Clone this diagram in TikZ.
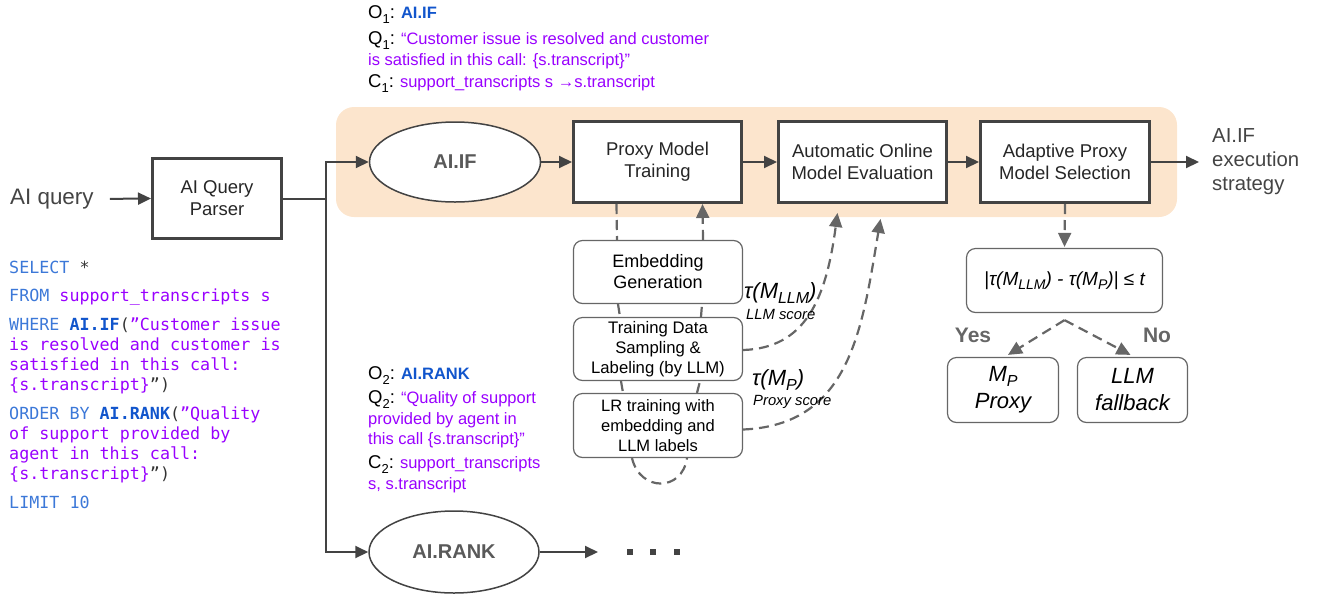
\documentclass[tikz,border=0pt]{standalone}
\usepackage{fontspec}
\setmainfont{Liberation Sans}
\setmonofont{DejaVu Sans Mono}
\usetikzlibrary{shapes,arrows.meta}

\definecolor{boxline}{HTML}{434343}
\definecolor{linegray}{HTML}{666666}
\definecolor{textgray}{HTML}{444444}
\definecolor{peach}{HTML}{FCE5CD}
\definecolor{sqlblue}{HTML}{3C78D8}
\definecolor{fnblue}{HTML}{1155CC}
\definecolor{strpurple}{HTML}{9900FF}

\newcommand{\pxfont}[2]{\fontsize{#1}{#2}\selectfont}
\newcommand{\sqlkw}[1]{\textcolor{sqlblue}{#1}}
\newcommand{\sqlfn}[1]{\textcolor{fnblue}{\bfseries #1}}
\newcommand{\sqlstr}[1]{\textcolor{strpurple}{#1}}
\newcommand{\notehead}[2]{{\pxfont{18.5}{22}#1\raisebox{-5pt}{\pxfont{13}{13}#2}:}}

\tikzset{
  mainbox/.style={draw=boxline, line width=3pt, fill=white, align=center, inner sep=0pt, text=black!85, font=\pxfont{18.5}{22}},
  opnode/.style={ellipse, draw=boxline, line width=1.5pt, fill=white, inner sep=0pt, text=black!65, font=\pxfont{20}{24}\bfseries},
  softbox/.style={draw=linegray, line width=1.2pt, rounded corners=9pt, fill=white, align=center, inner sep=0pt},
  flow/.style={draw=boxline, line width=2pt, -{Triangle[length=13pt,width=12pt]}},
  dashline/.style={draw=linegray, line width=2.2pt, dash pattern=on 10pt off 6pt},
  dasharrow/.style={dashline, -{Triangle[length=14pt,width=13pt]}},
  sqlline/.style={anchor=base west, inner sep=0pt, font=\ttfamily\pxfont{16.7}{20}, text=black!80},
  notetext/.style={anchor=base west, inner sep=0pt, font=\pxfont{16.5}{20}},
  scorelabel/.style={anchor=west, inner sep=0pt, font=\pxfont{22}{24}\itshape},
  scorenote/.style={anchor=west, inner sep=0pt, font=\pxfont{14.8}{17}\itshape},
}

\begin{document}
\begin{tikzpicture}[x=1pt,y=-1pt]
\useasboundingbox (0,0) rectangle (1317,598);
% shaded AI.IF stage
\fill[peach, rounded corners=18pt] (336,107) rectangle (1177,217);

% query and parser
\node[anchor=west, inner sep=0pt, text=textgray, font=\pxfont{22.4}{26}] (aiquery) at (10,199) {AI query};
\node[mainbox, minimum width=129pt, minimum height=80pt] (parser) at (217,198.5) {AI Query\\Parser};
\draw[flow, shorten <=16pt] (aiquery.east) -- (parser.west);

% operators
\node[opnode, minimum width=171pt, minimum height=80pt] (aiif) at (455,162) {AI.IF};
\node[opnode, minimum width=170pt, minimum height=82pt] (airank) at (454,552) {AI.RANK};
\draw[flow] (parser.east) -- ++(43,0) |- (aiif.west);
\draw[flow] (parser.east) -- ++(43,0) |- (airank.west);

% AI.IF pipeline
\node[mainbox, minimum width=168pt, minimum height=81pt] (proxy) at (657.5,162) {Proxy Model\\Training};
\node[mainbox, minimum width=168pt, minimum height=81pt] (autoeval) at (862.5,162) {Automatic Online\\Model Evaluation};
\node[mainbox, minimum width=169pt, minimum height=81pt] (adaptive) at (1065,162) {Adaptive Proxy\\Model Selection};
\node[anchor=west, inner sep=0pt, align=left, text=textgray, font=\pxfont{20.3}{24}] (strategy) at (1212,162) {AI.IF\\execution\\strategy};
\draw[flow] (aiif) -- (proxy);
\draw[flow] (proxy) -- (autoeval);
\draw[flow] (autoeval) -- (adaptive);
\draw[flow, shorten >=13pt] (adaptive) -- (strategy.west);

% proxy training steps
\node[softbox, minimum width=169pt, minimum height=63pt, font=\pxfont{18}{21}] (embed) at (658,272) {Embedding\\Generation};
\node[softbox, minimum width=169pt, minimum height=63pt, font=\pxfont{16.7}{20}] (sampling) at (658,349) {Training Data\\Sampling \&\\Labeling (by LLM)};
\node[softbox, minimum width=169pt, minimum height=64pt, font=\pxfont{16.5}{20}] (lrtrain) at (658,425.5) {LR training with\\embedding and\\LLM labels};
\draw[dashline] ([xshift=-41pt]proxy.south) -- ([xshift=-41pt]embed.north);
\draw[dashline] ([xshift=-40pt]embed.south) -- ([xshift=-38pt]sampling.north);
\draw[dashline] ([xshift=-37pt]sampling.south) -- ([xshift=-35pt]lrtrain.north);
\draw[dashline] ([xshift=39pt]lrtrain.north) -- ([xshift=42pt]sampling.south);
\draw[dashline] ([xshift=43pt]sampling.north) -- ([xshift=44pt]embed.south);
\draw[dasharrow] ([xshift=45pt]embed.north) -- ([xshift=45pt]proxy.south);
\draw[dashline] ([xshift=-26pt]lrtrain.south) .. controls (640,492) and (682,492) .. ([xshift=29pt]lrtrain.south);

% scores sent to evaluation
\draw[dasharrow] ([yshift=-1pt]sampling.east) .. controls (805,348) and (826,300) .. ([xshift=-25pt,yshift=-9pt]autoeval.south);
\draw[dasharrow] ([yshift=-4pt]lrtrain.east) .. controls (850,425) and (862,330) .. ([xshift=18pt,yshift=-15pt]autoeval.south);
\node[scorelabel] (tllm) at (744,293) {τ(M\raisebox{-5pt}{\pxfont{16}{16}LLM})};
\node[scorenote] (llmscore) at (746,314) {LLM score};
\node[scorelabel] (tproxy) at (752,380) {τ(M\raisebox{-5pt}{\pxfont{16}{16}P})};
\node[scorenote] (proxyscore) at (753,402) {Proxy score};

% selection
\node[softbox, minimum width=196pt, minimum height=64pt, font=\pxfont{19}{22}\itshape] (decision) at (1064.5,280.5) {|τ(M\raisebox{-4pt}{\pxfont{14}{14}LLM}) - τ(M\raisebox{-4pt}{\pxfont{14}{14}P})| ≤ t};
\draw[dasharrow] (adaptive.south) -- ([yshift=1pt]decision.north);
\coordinate (fork) at ([yshift=-7pt]decision.south);
\node[softbox, minimum width=111pt, minimum height=65pt, font=\pxfont{22}{27}\itshape] (proxypick) at (1003,390) {M\raisebox{-5pt}{\pxfont{16}{16}P}\\Proxy};
\node[softbox, minimum width=110pt, minimum height=65pt, font=\pxfont{22}{27}\itshape] (fallback) at (1132.5,390) {LLM\\fallback};
\draw[dasharrow] (fork) -- ([xshift=5pt,yshift=2pt]proxypick.north);
\draw[dasharrow] (fork) -- ([xshift=-2pt,yshift=2pt]fallback.north);
\node[text=linegray, font=\pxfont{21}{24}\bfseries] (yes) at (973,335) {Yes};
\node[text=linegray, font=\pxfont{21}{24}\bfseries] (no) at (1157,335) {No};

% AI.RANK branch
\coordinate (rankout) at (598,552);
\draw[flow] (airank) -- (rankout);
\foreach \x in {630,653,677}
  \fill[boxline] ({\x-3},549) rectangle ++(6,6);

% query text
\foreach \y/\txt [count=\i] in {
  273/{\sqlkw{SELECT} *},
  301/{\sqlkw{FROM} \sqlstr{support\_transcripts s}},
  330/{\sqlkw{WHERE} \sqlfn{AI.IF}(\sqlstr{”Customer issue}},
  350/{\sqlstr{is resolved and customer is}},
  370/{\sqlstr{satisfied in this call:}},
  390/{\sqlstr{\{s.transcript\}}”)},
  419/{\sqlkw{ORDER BY} \sqlfn{AI.RANK}(\sqlstr{”Quality}},
  439/{\sqlstr{of support provided by}},
  459/{\sqlstr{agent in this call:}},
  479/{\sqlstr{\{s.transcript\}}”)},
  508/{\sqlkw{LIMIT 10}}}
  \node[sqlline] (sql\i) at (9,\y) {\txt};

% operator notes
\foreach \y/\txt [count=\i] in {
  18/{\notehead{O}{1} \textcolor{fnblue}{\bfseries AI.IF}},
  44/{\notehead{Q}{1} \sqlstr{“Customer issue is resolved and customer}},
  65/{\sqlstr{is satisfied in this call: \{s.transcript\}”}},
  87/{\notehead{C}{1} \sqlstr{support\_transcripts s →s.transcript}}}
  \node[notetext] (ifnote\i) at (368,\y) {\txt};
\foreach \y/\txt [count=\i] in {
  379/{\notehead{O}{2} \textcolor{fnblue}{\bfseries AI.RANK}},
  403/{\notehead{Q}{2} \sqlstr{“Quality of support}},
  424/{\sqlstr{provided by agent in}},
  444/{\sqlstr{this call \{s.transcript\}”}},
  468/{\notehead{C}{2} \sqlstr{support\_transcripts}},
  489/{\sqlstr{s, s.transcript}}}
  \node[notetext] (ranknote\i) at (368,\y) {\txt};

\end{tikzpicture}
\end{document}
